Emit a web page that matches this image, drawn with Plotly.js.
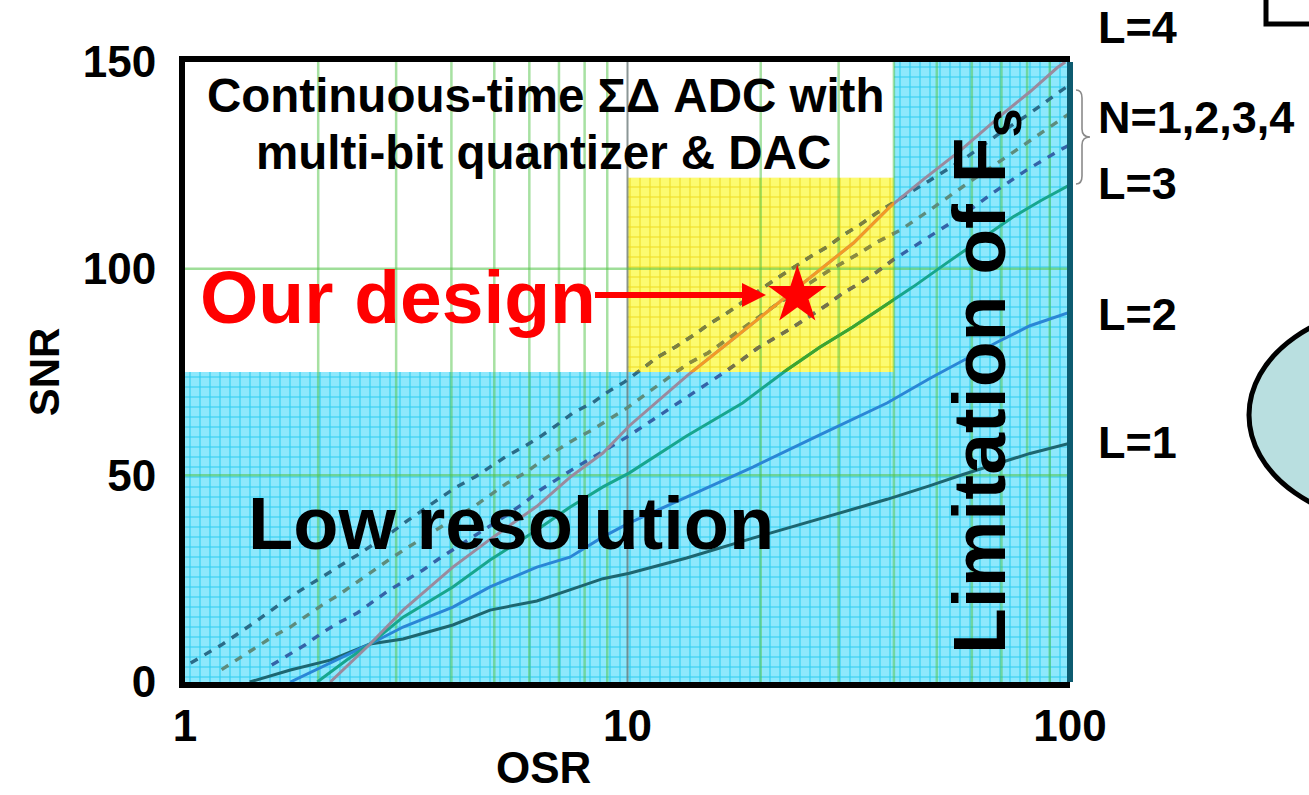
<!DOCTYPE html>
<html>
<head>
<meta charset="utf-8">
<script src="https://cdn.plot.ly/plotly-3.0.1.min.js"></script>
<style>
html,body{margin:0;padding:0;background:#ffffff;}
#chart{width:1309px;height:795px;}
</style>
</head>
<body>
<div id="chart"></div>
<script>
// ---------------- DATA ----------------
const osrTicks = [1, 10, 100];
const osrTickLabels = ['1', '10', '100'];
const snrTicks = [0, 50, 100, 150];
const snrTickLabels = ['0', '50', '100', '150'];
const gridMinorOSR = [2, 3, 4, 5, 6, 7, 8, 9, 20, 30, 40, 50, 60, 70, 80, 90];
const gridDecadeOSR = [10];
const gridSNR = [50, 100];
const xTitle = 'OSR';
const yTitle = 'SNR';

const osrMin = 1, osrMax = 100, snrMin = 0, snrMax = 150;
const fsLimitOSR = 40;      // Limitation of Fs
const lowResSNR = 75;       // Low resolution ceiling
const targetOSRMin = 10;    // yellow target window
const targetSNRMax = 122;

// solid lines: single-bit, loop order L
const l1OSR = [1.40, 1.73, 2.13, 2.62, 3.11, 4.03, 4.89, 6.24, 7.41, 8.80, 10.1, 13.6, 19.2, 27.2, 38.6, 48.3, 57.3, 68.4, 81.2, 100];
const l1SNR = [0, 2.9, 5.3, 9.2, 10.4, 13.8, 17.4, 19.6, 22.3, 25.0, 26.3, 30.0, 34.8, 39.5, 44.2, 47.5, 50.2, 52.8, 55.3, 57.8];

const l2OSR = [1.73, 2.13, 2.62, 3.11, 4.03, 4.89, 6.24, 7.41, 8.80, 10.1, 13.6, 19.2, 27.2, 38.6, 48.3, 57.3, 68.4, 81.2, 100];
const l2SNR = [0, 4.6, 9.2, 13.3, 18.1, 23.0, 27.8, 30.2, 35.1, 38.5, 44.8, 52.0, 59.8, 67.5, 73.5, 77.8, 82.2, 86.2, 89.5];

const l3OSR = [1.99, 2.32, 2.62, 3.11, 4.03, 4.89, 6.24, 7.41, 8.80, 10.1, 13.6, 18.2, 22.9, 27.2, 32.3, 39.2, 44.2, 52.7, 62.6, 74.3, 86.0, 100];
const l3SNR = [0, 5.3, 9.2, 15.7, 23.0, 29.5, 36.8, 42.3, 47.2, 50.6, 59.5, 67.5, 75.5, 81.0, 85.9, 91.9, 95.6, 101.4, 106.9, 112.5, 116.5, 120.3];

const l4OSR = [2.13, 2.62, 3.11, 4.03, 4.89, 6.24, 7.41, 8.80, 10.1, 13.6, 19.2, 24.9, 32.4, 39.1, 46.5, 56.4, 70.6, 81.2, 93.5, 97.6];
const l4SNR = [0, 9.2, 17.4, 27.8, 34.5, 42.5, 49.5, 55.4, 62.0, 74.0, 86.8, 96.5, 106.2, 114.9, 121.5, 128.5, 137.5, 142.8, 148.6, 150];

// dashed lines: L=3 with multi-bit quantizer N=2,3,4
const n4OSR = [1.03, 1.21, 1.44, 1.71, 2.04, 2.45, 2.94, 3.17, 3.77, 4.11, 4.52, 4.89, 5.34, 5.87, 6.34, 6.93, 7.53, 8.32, 9.03, 9.85, 10.8, 11.7, 12.8, 14.1, 15.2, 16.8, 21.5, 25.8, 28.2, 30.7, 33.5, 36.6, 48.3, 58.5, 68.4, 81.2, 95.9, 100];
const n4SNR = [4.6, 9.0, 14.5, 20.3, 25.4, 30.7, 36.3, 38.9, 44.5, 47.2, 49.6, 52.0, 54.7, 57.1, 59.3, 62.2, 65.1, 67.5, 70.2, 72.6, 75.7, 78.6, 81.0, 83.9, 86.4, 89.3, 97.3, 102.8, 105.2, 108.1, 110.6, 113.5, 121.4, 127.0, 132.3, 137.6, 143.2, 144.5];

const n3OSR = [1.21, 1.31, 1.44, 1.58, 1.73, 1.89, 2.04, 2.22, 2.45, 2.66, 2.91, 3.17, 3.77, 4.52, 5.34, 5.87, 6.34, 6.93, 7.53, 8.32, 9.03, 9.98, 12.8, 13.8, 15.2, 18.1, 21.5, 25.8, 28.2, 33.5, 36.6, 41.3, 47.5, 57.0, 68.4, 81.2, 95.9, 100];
const n3SNR = [3.0, 5.4, 8.3, 11.0, 13.3, 16.2, 18.6, 21.0, 24.2, 27.1, 29.8, 32.4, 37.5, 42.6, 48.1, 50.6, 53.2, 56.1, 58.5, 61.0, 63.4, 66.3, 74.8, 77.2, 79.6, 85.4, 91.0, 96.5, 99.2, 103.8, 106.4, 109.3, 113.7, 119.7, 125.5, 131.1, 136.4, 137.6];

const n2OSR = [1.57, 1.71, 1.87, 2.04, 2.22, 2.45, 2.66, 2.90, 3.17, 3.45, 3.77, 4.57, 5.34, 5.87, 6.34, 7.53, 8.32, 9.98, 15.2, 16.6, 18.1, 19.7, 21.5, 23.7, 28.2, 30.7, 33.5, 36.6, 39.8, 47.5, 56.4, 66.9, 79.9, 94.9, 100];
const n2SNR = [4.1, 6.5, 9.0, 11.9, 14.3, 16.7, 19.4, 22.3, 24.7, 27.1, 30.0, 35.8, 40.4, 43.5, 46.4, 51.5, 54.2, 59.3, 72.3, 75.0, 77.9, 80.8, 83.2, 85.9, 91.2, 94.1, 96.5, 99.2, 102.1, 107.4, 112.5, 118.3, 123.9, 128.7, 130.0];

const ourDesignOSR = [24.2];
const ourDesignSNR = [93.5];

const rightLabels = ['L=4', 'N=1,2,3,4', 'L=3', 'L=2', 'L=1'];

// ---------------- GEOMETRY / STYLE ----------------
const W = 1309, H = 795;
const M = {l: 185, r: 239, t: 62, b: 113};
const PW = W - M.l - M.r, PH = H - M.t - M.b;
const PX = p => (p - M.l) / PW;             // pixel -> paper x
const PY = p => (H - M.b - p) / PH;         // pixel -> paper y
const lg = Math.log10;
const xDom = v => (lg(v) - lg(osrMin)) / (lg(osrMax) - lg(osrMin));

const FONT = 'Liberation Sans, Arial, Helvetica, sans-serif';

const cyanPattern = {shape: '+', size: 10, solidity: 0.2, fgcolor: '#2ccdf0', bgcolor: '#8ee8fc', fillmode: 'replace'};
const yellowPattern = {shape: '+', size: 10, solidity: 0.2, fgcolor: '#eedc22', bgcolor: '#fcfb70', fillmode: 'replace'};

function region(x, y, pattern, color) {
  return {x: x, y: y, type: 'scatter', mode: 'lines', fill: 'toself', fillcolor: color,
    fillpattern: pattern, line: {width: 0, color: color}, hoverinfo: 'skip', showlegend: false};
}
function vgrid(vals, color, width) {
  return {x: vals.flatMap(v => [v, v, null]), y: vals.flatMap(() => [snrMin, snrMax, null]),
    type: 'scatter', mode: 'lines', line: {color: color, width: width}, hoverinfo: 'skip', showlegend: false};
}
function hgrid(vals, color, width) {
  return {x: vals.flatMap(() => [osrMin, osrMax, null]), y: vals.flatMap(v => [v, v, null]),
    type: 'scatter', mode: 'lines', line: {color: color, width: width}, hoverinfo: 'skip', showlegend: false};
}
function curve(x, y, color, dashed, ax) {
  return {x: x, y: y, type: 'scatter', mode: 'lines',
    line: {color: color, width: dashed ? 3.4 : 3, dash: dashed ? '8px,8px' : 'solid'},
    xaxis: ax ? 'x2' : 'x', yaxis: ax ? 'y2' : 'y', hoverinfo: 'skip', showlegend: false};
}

const traces = [
  region([osrMin, fsLimitOSR, fsLimitOSR, osrMin], [snrMin, snrMin, lowResSNR, lowResSNR], cyanPattern, '#8ee8fc'),
  region([fsLimitOSR, osrMax, osrMax, fsLimitOSR], [snrMin, snrMin, snrMax, snrMax], cyanPattern, '#8ee8fc'),
  region([targetOSRMin, fsLimitOSR, fsLimitOSR, targetOSRMin], [lowResSNR, lowResSNR, targetSNRMax, targetSNRMax], yellowPattern, '#fcfb70'),
  vgrid(gridMinorOSR, 'rgba(80,195,70,0.5)', 2.5),
  vgrid(gridDecadeOSR, 'rgba(100,115,115,0.75)', 2),
  hgrid(gridSNR, 'rgba(80,195,70,0.55)', 2.5),
  curve(n4OSR, n4SNR, '#2a6b88', true),
  curve(n3OSR, n3SNR, '#5d8c7c', true),
  curve(n2OSR, n2SNR, '#3463a8', true),
  curve(l1OSR, l1SNR, '#1d6670', false),
  curve(l2OSR, l2SNR, '#2a86d6', false),
  curve(l3OSR, l3SNR, '#17a68e', false),
  curve(l4OSR, l4SNR, '#9a8a9e', false),
  // the same curves re-coloured inside the yellow target window (clipped by subplot 2)
  curve(n4OSR, n4SNR, '#80803a', true, true),
  curve(n3OSR, n3SNR, '#8e8c3c', true, true),
  curve(n2OSR, n2SNR, '#787245', true, true),
  curve(l3OSR, l3SNR, '#3fa52c', false, true),
  curve(l4OSR, l4SNR, '#f39a25', false, true),
  {x: ourDesignOSR, y: ourDesignSNR, type: 'scatter', mode: 'markers', xaxis: 'x2', yaxis: 'y2',
    marker: {symbol: 'star', size: 44, color: '#ff0000', line: {width: 0}}, cliponaxis: false,
    hoverinfo: 'skip', showlegend: false}
];

const rightLabelY = [27, 117, 183, 314, 442];
const annotations = [
  {text: 'Continuous-time ΣΔ ADC with', xref: 'paper', yref: 'paper', x: PX(545), y: PY(95),
    xanchor: 'center', yanchor: 'middle', showarrow: false, font: {family: FONT, size: 47.5, color: '#000', weight: 'bold'}},
  {text: 'multi-bit quantizer &amp; DAC', xref: 'paper', yref: 'paper', x: PX(543), y: PY(152),
    xanchor: 'center', yanchor: 'middle', showarrow: false, font: {family: FONT, size: 47.5, color: '#000', weight: 'bold'}},
  {text: 'Our design', xref: 'paper', yref: 'paper', x: PX(198), y: PY(297),
    xanchor: 'left', yanchor: 'middle', showarrow: false, font: {family: FONT, size: 75, color: '#ff0000', weight: 'bold'}},
  {text: 'Low resolution', xref: 'paper', yref: 'paper', x: PX(246), y: PY(523),
    xanchor: 'left', yanchor: 'middle', showarrow: false, font: {family: FONT, size: 74, color: '#000', weight: 'bold'}},
  {text: 'Limitation of F<sub>s</sub>', xref: 'paper', yref: 'paper', x: PX(984), y: PY(381), textangle: -90,
    xanchor: 'center', yanchor: 'middle', showarrow: false, font: {family: FONT, size: 75, color: '#000', weight: 'bold'}},
  {text: ' ', xref: 'paper', yref: 'paper', x: PX(766), y: PY(295), ax: -174, ay: 0, showarrow: true,
    arrowhead: 2, arrowsize: 0.8, arrowwidth: 6, arrowcolor: '#ff0000', standoff: 0, startstandoff: 0},
  // x-axis title
  {text: xTitle, xref: 'paper', yref: 'paper', x: PX(543), y: 0, yshift: -(H - M.b) + 764 - 0, xanchor: 'center', yanchor: 'bottom',
    showarrow: false, font: {family: FONT, size: 44, color: '#000', weight: 'bold'}}
].concat(rightLabels.map((t, i) => ({
  text: t, xref: 'paper', yref: 'paper', x: PX(1096), y: PY(rightLabelY[i]), xanchor: 'left', yanchor: 'middle',
  showarrow: false, font: {family: FONT, size: 45, color: '#000', weight: 'bold'}
})));
// place OSR title so that its box ends at the bottom edge of the picture
annotations[6].y = PY(H - 1);
annotations[6].yshift = 0;

const bx = 1076, bs = 1082, bt = 1090, byTop = 90, byMid = 137, byBot = 184;
const bracePath = 'M' + PX(bx) + ',' + PY(byTop) +
  ' Q' + PX(bs) + ',' + PY(byTop) + ' ' + PX(bs) + ',' + PY(byTop + 8) +
  ' L' + PX(bs) + ',' + PY(byMid - 8) +
  ' Q' + PX(bs) + ',' + PY(byMid) + ' ' + PX(bt) + ',' + PY(byMid) +
  ' Q' + PX(bs) + ',' + PY(byMid) + ' ' + PX(bs) + ',' + PY(byMid + 8) +
  ' L' + PX(bs) + ',' + PY(byBot - 8) +
  ' Q' + PX(bs) + ',' + PY(byBot) + ' ' + PX(bx) + ',' + PY(byBot);

const shapes = [
  {type: 'line', xref: 'paper', yref: 'paper', x0: 1, x1: 1, y0: 0, y1: 1, line: {color: '#0d5b70', width: 6}},
  {type: 'path', xref: 'paper', yref: 'paper', path: bracePath, line: {color: '#8a8a8a', width: 1.6}},
  {type: 'path', xref: 'paper', yref: 'paper',
    path: 'M' + PX(1266) + ',' + PY(-5) + ' L' + PX(1266) + ',' + PY(24) + ' L' + PX(1320) + ',' + PY(24),
    line: {color: '#000', width: 5}},
  {type: 'circle', xref: 'paper', yref: 'paper', x0: PX(1249), x1: PX(1562), y0: PY(525), y1: PY(305),
    fillcolor: '#b9dfe0', line: {color: '#000', width: 5}}
];

const layout = {
  width: W, height: H,
  margin: M,
  paper_bgcolor: '#ffffff',
  plot_bgcolor: 'rgba(0,0,0,0)',
  showlegend: false,
  xaxis: {
    type: 'log', range: [lg(osrMin), lg(osrMax)], domain: [0, 1],
    tickvals: osrTicks, ticktext: osrTickLabels, ticks: '',
    showgrid: false, zeroline: false, showline: true, linecolor: '#000', linewidth: 6, mirror: true,
    tickfont: {family: FONT, size: 44, color: '#000', weight: 'bold'},
    ticklabelstandoff: 0
  },
  yaxis: {
    range: [snrMin, snrMax], domain: [0, 1],
    tickvals: snrTicks, ticktext: snrTickLabels, ticks: '',
    showgrid: false, zeroline: false, showline: true, linecolor: '#000', linewidth: 6, mirror: false,
    tickfont: {family: FONT, size: 44, color: '#000', weight: 'bold'},
    ticklabelstandoff: 14,
    title: {text: yTitle, font: {family: FONT, size: 42, color: '#000', weight: 'bold'}, standoff: 12}
  },
  xaxis2: {
    type: 'log', range: [lg(targetOSRMin), lg(fsLimitOSR)], domain: [xDom(targetOSRMin), xDom(fsLimitOSR)],
    anchor: 'y2', visible: false, showgrid: false, zeroline: false
  },
  yaxis2: {
    range: [lowResSNR, targetSNRMax], domain: [(lowResSNR - snrMin) / (snrMax - snrMin), (targetSNRMax - snrMin) / (snrMax - snrMin)],
    anchor: 'x2', visible: false, showgrid: false, zeroline: false
  },
  annotations: annotations,
  shapes: shapes
};

Plotly.newPlot('chart', traces, layout, {displayModeBar: false, staticPlot: true});
</script>
</body>
</html>
